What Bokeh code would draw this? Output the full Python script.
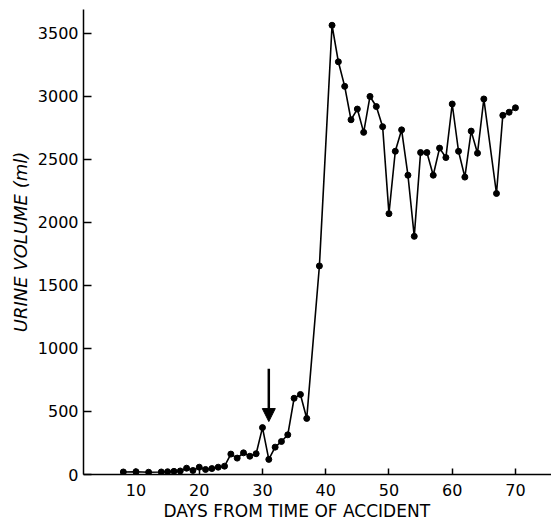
from bokeh.plotting import figure
from bokeh.models import Arrow, NormalHead, Range1d, FixedTicker, Title
from bokeh.embed import file_html
from bokeh.resources import INLINE

# Data
days = [8, 10, 12, 14, 15, 16, 17, 18, 19, 20, 21, 22, 23, 24, 25, 26, 27, 28, 29,
        30, 31, 32, 33, 34, 35, 36, 37, 39, 41, 42, 43, 44, 45, 46, 47, 48, 49, 50,
        51, 52, 53, 54, 55, 56, 57, 58, 59, 60, 61, 62, 63, 64, 65, 67, 68, 69, 70]
urine_ml = [20, 22, 18, 20, 22, 25, 28, 50, 32, 58, 40, 47, 58, 66, 162, 130, 172,
            145, 165, 372, 120, 217, 262, 315, 605, 635, 445, 1655, 3565, 3275,
            3080, 2815, 2900, 2715, 3000, 2920, 2760, 2070, 2565, 2735, 2375, 1890,
            2555, 2555, 2375, 2590, 2515, 2940, 2565, 2360, 2725, 2550, 2980, 2230,
            2850, 2875, 2910]
x_ticks = [10, 20, 30, 40, 50, 60, 70]
y_ticks = [0, 500, 1000, 1500, 2000, 2500, 3000, 3500]
arrow_day = 31
arrow_from = 840
arrow_to = 420

FONT = "DejaVu Sans"

p = figure(width=551, height=520, output_backend="svg", toolbar_location=None,
           x_range=Range1d(1.7, 75.7), y_range=Range1d(0, 3690),
           min_border_left=83, min_border_right=0, min_border_top=9,
           min_border_bottom=0)
p.outline_line_color = None
p.grid.visible = False
p.background_fill_color = "white"

p.line(days, urine_ml, line_color="black", line_width=1.6)
p.scatter(days, urine_ml, size=6, color="black")

p.add_layout(Arrow(end=NormalHead(size=13, fill_color="black", line_color="black"),
                   x_start=arrow_day, y_start=arrow_from,
                   x_end=arrow_day, y_end=arrow_to,
                   line_color="black", line_width=2.5))

for ax in (p.xaxis[0], p.yaxis[0]):
    ax.axis_line_color = "black"
    ax.axis_line_width = 1.5
    ax.major_tick_line_color = "black"
    ax.major_tick_line_width = 1.5
    ax.major_tick_out = 0
    ax.minor_tick_line_color = None
    ax.major_label_text_font = FONT
    ax.major_label_text_font_size = "16px"
    ax.major_label_text_color = "black"
    ax.axis_label_text_font = FONT
    ax.axis_label_text_color = "black"

p.xaxis.ticker = FixedTicker(ticks=x_ticks)
p.yaxis.ticker = FixedTicker(ticks=y_ticks)
p.xaxis.major_tick_in = 6
p.yaxis.major_tick_in = 8
p.xaxis.major_label_standoff = 9
p.yaxis.major_label_standoff = 5
p.yaxis.axis_label = "URINE VOLUME (ml)"
p.yaxis.axis_label_text_font_size = "18px"
p.yaxis.axis_label_text_font_style = "italic"
p.yaxis.axis_label_standoff = 4

# x-axis title as a below-title, shifted left of centre as in the original
p.add_layout(Title(text="DAYS FROM TIME OF ACCIDENT", align="left", offset=80,
                   standoff=0, text_font=FONT, text_font_size="17px",
                   text_font_style="normal", text_color="black"), "below")

open("out.html", "w").write(file_html(p, INLINE))
